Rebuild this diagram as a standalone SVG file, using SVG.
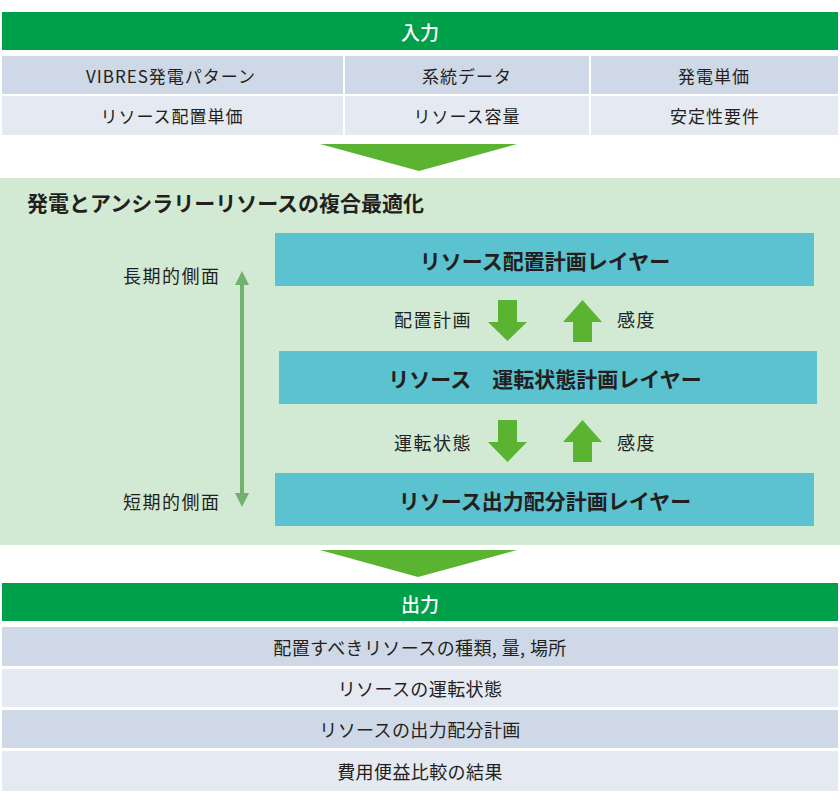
<svg xmlns="http://www.w3.org/2000/svg" width="840" height="804" viewBox="0 0 840 804">
<style>
text{font-family:"Noto Sans CJK JP","Noto Sans",sans-serif;fill:#231f20;}
.hd{fill:#00a04b;}
.hdt{fill:#fff;font-size:19px;font-weight:500;text-anchor:middle;dominant-baseline:central;}
.r1{fill:#cfd8e6;}
.r2{fill:#e5e9f1;}
.ct{font-size:17px;text-anchor:middle;dominant-baseline:central;letter-spacing:1px;}
.ot{font-size:18px;text-anchor:middle;dominant-baseline:central;letter-spacing:0.4px;}
.layer{fill:#5bc2cf;}
.lt{font-size:21px;font-weight:bold;text-anchor:middle;dominant-baseline:central;}
.lab{font-size:18px;dominant-baseline:central;letter-spacing:1.5px;}
.blk{fill:#5ab432;}
.tri{fill:#5ab432;}
</style>
<rect width="840" height="804" fill="#fff"/>
<g id="input">
<rect class="hd" x="2" y="12" width="836" height="38"/>
<text class="hdt" x="420" y="31">入力</text>
<rect class="r1" x="2" y="56" width="341" height="38"/>
<rect class="r1" x="345" y="56" width="244" height="38"/>
<rect class="r1" x="591" y="56" width="247" height="38"/>
<rect class="r2" x="2" y="96" width="341" height="39"/>
<rect class="r2" x="345" y="96" width="244" height="39"/>
<rect class="r2" x="591" y="96" width="247" height="39"/>
<text class="ct" x="171" y="75">VIBRES発電パターン</text>
<text class="ct" x="467" y="75">系統データ</text>
<text class="ct" x="714" y="75">発電単価</text>
<text class="ct" x="172" y="115">リソース配置単価</text>
<text class="ct" x="467" y="115">リソース容量</text>
<text class="ct" x="715" y="115">安定性要件</text>
</g>
<g id="optimization">
<rect x="0" y="178" width="840" height="367" fill="#d2e9d4"/>
<text x="27" y="202" font-size="21" font-weight="bold" dominant-baseline="central">発電とアンシラリーリソースの複合最適化</text>
</g>
<g id="layer1">
<rect class="layer" x="275" y="233" width="539" height="53"/>
<text class="lt" x="545" y="260">リソース配置計画レイヤー</text>
</g>
<g id="layer2">
<rect class="layer" x="279" y="351" width="538" height="53"/>
<text class="lt" x="545" y="378">リソース　運転状態計画レイヤー</text>
</g>
<g id="layer3">
<rect class="layer" x="275" y="473" width="539" height="53"/>
<text class="lt" x="545" y="500">リソース出力配分計画レイヤー</text>
</g>
<g id="labels">
<text class="lab" x="123" y="275">長期的側面</text>
<text class="lab" x="123" y="501">短期的側面</text>
<text class="lab" x="472" y="319" text-anchor="end">配置計画</text>
<text class="lab" x="617" y="319">感度</text>
<text class="lab" x="472" y="442" text-anchor="end">運転状態</text>
<text class="lab" x="617" y="442">感度</text>
</g>
<g id="connectors">
<polygon class="tri" points="320,144 517,144 419,171"/>
<polygon class="tri" points="320,550 517,550 418,577"/>
<line x1="242" y1="283" x2="242" y2="495" stroke="#71b26e" stroke-width="4"/>
<polygon points="242,271 249,285 235,285" fill="#71b26e"/>
<polygon points="242,507 249,493 235,493" fill="#71b26e"/>
<polygon class="blk" points="498,300 517,300 517,322 527,322 507.5,341 488,322 498,322"/>
<polygon class="blk" points="573,342 592,342 592,322 602,322 582.5,300 563,322 573,322"/>
<polygon class="blk" points="498,420 517,420 517,442 527,442 507.5,462 488,442 498,442"/>
<polygon class="blk" points="573,462 592,462 592,442 602,442 582.5,420 563,442 573,442"/>
</g>
<g id="output">
<rect class="hd" x="2" y="583" width="836" height="38"/>
<text class="hdt" x="420" y="603">出力</text>
<rect class="r1" x="2" y="627" width="836" height="39"/>
<rect class="r2" x="2" y="669" width="836" height="38"/>
<rect class="r1" x="2" y="710" width="836" height="38"/>
<rect class="r2" x="2" y="751" width="836" height="40"/>
<text class="ot" x="420" y="647">配置すべきリソースの種類, 量, 場所</text>
<text class="ot" x="420" y="688">リソースの運転状態</text>
<text class="ot" x="420" y="729">リソースの出力配分計画</text>
<text class="ot" x="420" y="771">費用便益比較の結果</text>
</g>
</svg>
